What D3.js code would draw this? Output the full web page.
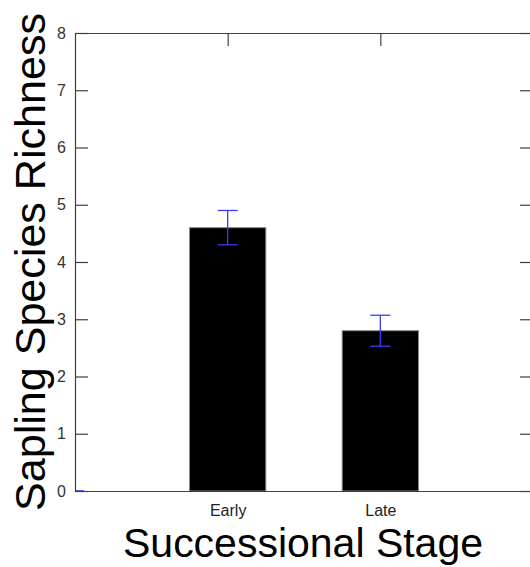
<!DOCTYPE html>
<html>
<head>
<meta charset="utf-8">
<script src="https://cdn.jsdelivr.net/npm/d3@7"></script>
<style>
  html, body { margin: 0; padding: 0; background: #fff; }
  svg { display: block; }
  text { font-family: "Liberation Sans", Arial, sans-serif; }
</style>
</head>
<body>
<svg id="chart" width="530" height="567"></svg>
<script>
// Sapling species richness by successional stage (mean ± SE)
const stages = ["Early", "Late"];
const richness = [4.6, 2.8];
const stdErr = [0.3, 0.27];
const yTicks = [0, 1, 2, 3, 4, 5, 6, 7, 8];

const plotLeft = 75, plotRight = 533, plotTop = 33, plotBottom = 491;
const axisColor = "#404040";

const svg = d3.select("#chart");

const x = d3.scaleLinear().domain([0, stages.length + 1]).range([plotLeft, plotRight]);
const y = d3.scaleLinear().domain([0, 8]).range([plotBottom, plotTop]);
const barW = 0.5;

// bars
svg.append("g").selectAll("rect")
  .data(stages)
  .join("rect")
  .attr("x", (d, i) => x(i + 1 - barW / 2))
  .attr("width", (d, i) => x(i + 1 + barW / 2) - x(i + 1 - barW / 2))
  .attr("y", (d, i) => y(richness[i]))
  .attr("height", (d, i) => y(0) - y(richness[i]))
  .attr("fill", "#000")
  .attr("stroke", "#8a8a8a")
  .attr("stroke-width", 1);

// error bars
const eb = svg.append("g").attr("stroke", "#3a3aff").attr("stroke-width", 1.3).attr("fill", "none");
stages.forEach((s, i) => {
  const cx = x(i + 1);
  const hi = y(richness[i] + stdErr[i]);
  const lo = y(richness[i] - stdErr[i]);
  eb.append("line").attr("x1", cx).attr("x2", cx).attr("y1", hi).attr("y2", lo);
  eb.append("line").attr("x1", cx - 10).attr("x2", cx + 10).attr("y1", hi).attr("y2", hi);
  eb.append("line").attr("x1", cx - 10).attr("x2", cx + 10).attr("y1", lo).attr("y2", lo);
});

// zero reference mark
svg.append("line")
  .attr("x1", x(0)).attr("x2", x(0) + 9)
  .attr("y1", y(0)).attr("y2", y(0))
  .attr("stroke", "#2020ff").attr("stroke-width", 1.5);

// axes: inward ticks on all four sides
function styleAxis(g) {
  g.select(".domain").attr("stroke", axisColor).attr("stroke-width", 1.2);
  g.selectAll(".tick line").attr("stroke", axisColor).attr("stroke-width", 1.2);
}

const yLeft = svg.append("g")
  .attr("transform", `translate(${plotLeft},0)`)
  .call(d3.axisLeft(y).tickValues(yTicks).tickSizeInner(-13).tickSizeOuter(0).tickPadding(9).tickFormat(d3.format("d")));
styleAxis(yLeft);
yLeft.selectAll(".tick text")
  .attr("font-size", 16)
  .attr("fill", "#333")
  .attr("font-family", "'Liberation Sans', Arial, sans-serif");

const yRight = svg.append("g")
  .attr("transform", `translate(${plotRight},0)`)
  .call(d3.axisRight(y).tickValues(yTicks).tickSizeInner(-13).tickSizeOuter(0).tickFormat(""));
styleAxis(yRight);

const xTop = svg.append("g")
  .attr("transform", `translate(0,${plotTop})`)
  .call(d3.axisTop(x).tickValues([1, 2]).tickSizeInner(-13).tickSizeOuter(0).tickFormat(""));
styleAxis(xTop);

const xBottom = svg.append("g")
  .attr("transform", `translate(0,${plotBottom})`)
  .call(d3.axisBottom(x).tickValues([1, 2]).tickSizeInner(0).tickSizeOuter(0).tickPadding(14).tickFormat((d) => stages[d - 1]));
styleAxis(xBottom);
xBottom.selectAll(".tick text")
  .attr("font-size", 16)
  .attr("fill", "#222")
  .attr("font-family", "'Liberation Sans', Arial, sans-serif");

// axis titles
svg.append("text")
  .attr("transform", `translate(45,${(plotTop + plotBottom) / 2}) rotate(-90)`)
  .attr("text-anchor", "middle")
  .attr("font-size", 42)
  .attr("textLength", 498)
  .attr("lengthAdjust", "spacingAndGlyphs")
  .attr("fill", "#000")
  .text("Sapling Species Richness");

svg.append("text")
  .attr("x", 303)
  .attr("y", 557)
  .attr("text-anchor", "middle")
  .attr("font-size", 41)
  .attr("textLength", 360)
  .attr("lengthAdjust", "spacingAndGlyphs")
  .attr("fill", "#000")
  .text("Successional Stage");
</script>
</body>
</html>
